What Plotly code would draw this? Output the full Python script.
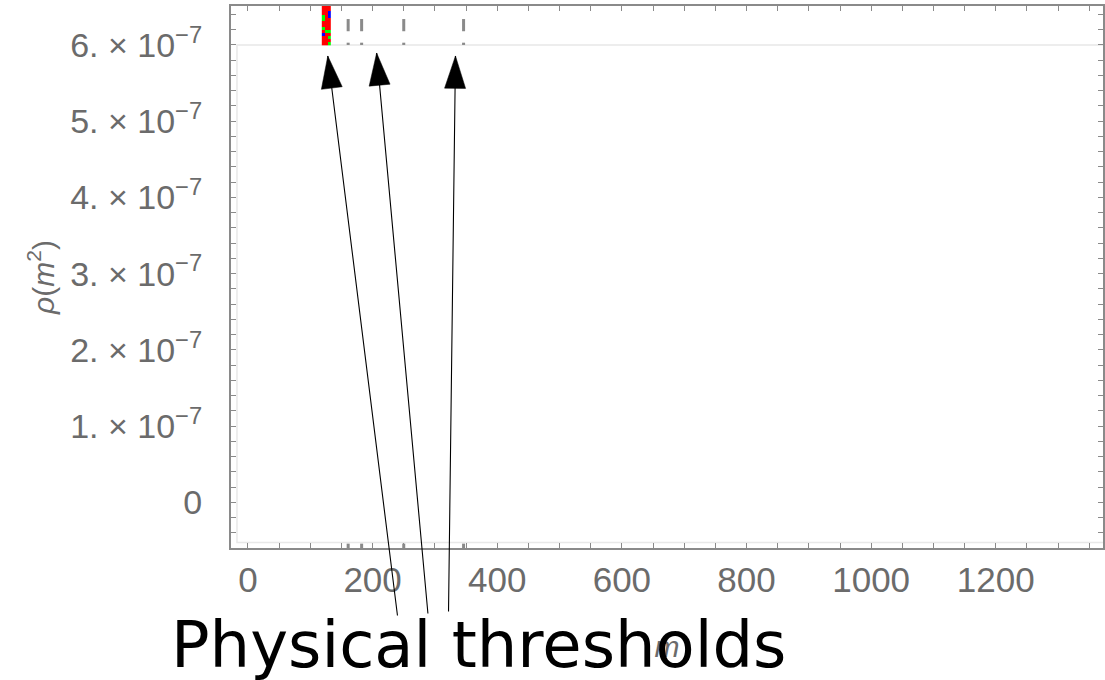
import plotly.graph_objects as go

# ---- data ----
x_tick_vals = [0, 200, 400, 600, 800, 1000, 1200]
x_tick_text = ["0", "200", "400", "600", "800", "1000", "1200"]
y_tick_vals = [0, 1e-7, 2e-7, 3e-7, 4e-7, 5e-7, 6e-7]
y_tick_text = ["0"] + [f"{k}. × 10<sup>−7</sup>" for k in range(1, 7)]

# physical thresholds (2mW, 2mZ, 2mh, 2mt)
thresholds_m = [160.8, 182.4, 250.0, 346.0]

# colored strip of points near m ~ 125
strip_m = [120.9, 125.7, 130.5]
strip_rho = [6.02e-7, 6.06e-7, 6.10e-7, 6.14e-7, 6.18e-7, 6.22e-7, 6.26e-7,
             6.30e-7, 6.34e-7, 6.38e-7, 6.42e-7, 6.46e-7, 6.50e-7]
strip_code = [  # 0 red, 1 green, 2 blue
    [0, 0, 1], [0, 0, 0], [0, 0, 1], [2, 0, 0], [0, 1, 1], [1, 0, 0], [0, 0, 0],
    [0, 0, 0], [1, 0, 0], [1, 0, 2], [0, 0, 2], [0, 0, 0], [0, 0, 0]]

# arrows: tip and tail positions (m, rho)
arrow_tip_m = [128.1, 206.5, 333.0]
arrow_tip_rho = [5.856e-7, 5.895e-7, 5.856e-7]
arrow_tail_m = [240.2, 289.0, 321.8]
arrow_tail_rho = [-1.502e-7, -1.475e-7, -1.449e-7]

x_range = [-27.2, 1372]
y_range = [-0.597e-7, 6.511e-7]

GRAY = "#6b6b6b"
AXIS = "#8a8a8a"

fig = go.Figure()

fig.add_trace(go.Heatmap(
    x=strip_m, y=strip_rho, z=strip_code, zmin=0, zmax=2,
    colorscale=[[0, "#ff0000"], [0.333, "#ff0000"], [0.333, "#00ff00"],
                [0.667, "#00ff00"], [0.667, "#0000ff"], [1, "#0000ff"]],
    showscale=False, hoverinfo="skip"))

# arrow heads and shafts
for tm, tr, am, ar in zip(arrow_tip_m, arrow_tip_rho, arrow_tail_m, arrow_tail_rho):
    fig.add_trace(go.Scatter(
        x=[am, tm], y=[ar, tr], mode="markers", cliponaxis=False,
        marker=dict(symbol="arrow", angleref="previous", size=[0, 34],
                    color="black", opacity=1, line=dict(width=0.5, color="black")),
        hoverinfo="skip", showlegend=False))
    fig.add_annotation(x=tm, y=tr, ax=am, ay=ar, xref="x", yref="y",
                       axref="x", ayref="y", text="", showarrow=True,
                       arrowhead=0, arrowwidth=1.1, arrowcolor="black",
                       standoff=0, startstandoff=0)

shapes = []
# light inner frame
shapes.append(dict(type="rect", xref="x", yref="y", x0=-17.6, x1=1400,
                   y0=-0.524e-7, y1=6.0e-7, line=dict(color="#e8e8e8", width=1.5),
                   layer="below"))
# threshold dashes
for m in thresholds_m:
    for (y0, y1) in [(6.18e-7, 6.34e-7), (6.0e-7, 6.03e-7), (-0.6e-7, -0.54e-7)]:
        shapes.append(dict(type="line", xref="x", yref="y", x0=m, x1=m,
                           y0=y0, y1=y1, line=dict(color=AXIS, width=3)))

fig.update_layout(
    width=1105, height=680,
    margin=dict(l=231, r=0, t=6, b=132),
    paper_bgcolor="white", plot_bgcolor="white",
    showlegend=False,
    shapes=shapes,
    font=dict(family="Liberation Sans, Arial, sans-serif", color=GRAY),
)

fig.update_xaxes(
    range=x_range, tickmode="array", tickvals=x_tick_vals, ticktext=x_tick_text,
    ticks="inside", ticklen=5, tickwidth=1, tickcolor=AXIS,
    showline=True, linecolor=AXIS, linewidth=2, mirror="allticks",
    showgrid=False, zeroline=False,
    tickfont=dict(size=35, color=GRAY), ticklabelstandoff=0,
    minor=dict(tickmode="linear", tick0=0, dtick=50, ticks="inside", ticklen=5,
               tickcolor=AXIS, tickwidth=1, showgrid=False),
    title=dict(text="<i>m</i>", font=dict(size=30, color=GRAY), standoff=38),
)
fig.update_yaxes(
    range=y_range, tickmode="array", tickvals=y_tick_vals, ticktext=y_tick_text,
    ticks="inside", ticklen=5, tickwidth=1, tickcolor=AXIS,
    showline=True, linecolor=AXIS, linewidth=2, mirror="allticks",
    showgrid=False, zeroline=False,
    tickfont=dict(size=34, color=GRAY), ticklabelstandoff=20,
    minor=dict(tickmode="linear", tick0=0, dtick=2e-8, ticks="inside", ticklen=5,
               tickcolor=AXIS, tickwidth=1, showgrid=False),
    title=dict(text="<i>ρ</i>(<i>m</i><sup>2</sup>)", font=dict(size=30, color=GRAY),
               standoff=7),
)

fig.add_annotation(text="Physical thresholds", xref="paper", yref="paper",
                   x=0.2843, y=-0.179, xanchor="center", yanchor="middle",
                   showarrow=False,
                   font=dict(family="DejaVu Sans", size=64, color="black"))

fig.write_html("out.html", config={"displayModeBar": False},
               post_script="document.body.style.margin='0';document.body.style.overflow='hidden';")
